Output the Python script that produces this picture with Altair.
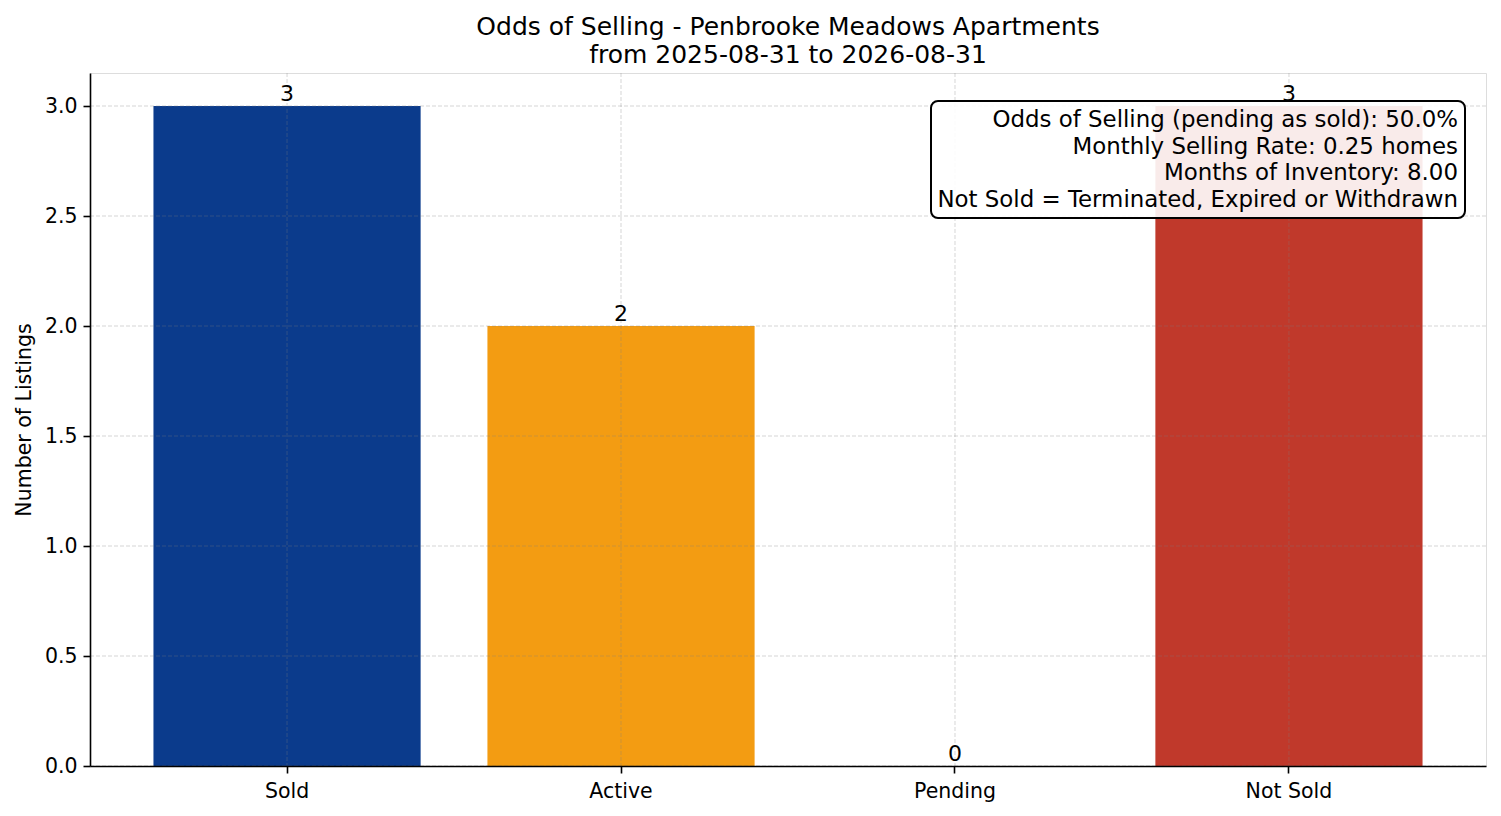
import altair as alt
import pandas as pd

categories = ["Sold", "Active", "Pending", "Not Sold"]
counts = [3, 2, 0, 3]
bar_colors = ["#0b3b8c", "#f39c12", "#7f7f7f", "#c0392b"]
y_ticks = [0.0, 0.5, 1.0, 1.5, 2.0, 2.5, 3.0]
title_lines = ["Odds of Selling - Penbrooke Meadows Apartments", "from 2025-08-31 to 2026-08-31"]
annotation_lines = [
    "Odds of Selling (pending as sold): 50.0%",
    "Monthly Selling Rate: 0.25 homes",
    "Months of Inventory: 8.00",
    "Not Sold = Terminated, Expired or Withdrawn",
]

FONT = "DejaVu Sans"
W, H = 1396, 693

df = pd.DataFrame({"status": categories, "count": counts})
ticks_df = pd.DataFrame({"tick": y_ticks})
ann_df = pd.DataFrame({"a": [0]})

x_scale = alt.Scale(domain=categories, paddingInner=0.2, paddingOuter=0.19)
y_scale = alt.Scale(domain=[0, 3.15], nice=False, zero=True)

x_enc = alt.X(
    "status:N",
    scale=x_scale,
    sort=categories,
    axis=alt.Axis(
        title=None, labelAngle=0, labelFontSize=20.5, labelFont=FONT, labelColor="black",
        tickSize=7, tickWidth=1.6, tickColor="black", labelPadding=8,
        domainColor="black", domainWidth=1.6, grid=False, zindex=1,
    ),
)
y_enc = alt.Y(
    "count:Q",
    scale=y_scale,
    axis=alt.Axis(
        title="Number of Listings", titleFontSize=20.5, titleFont=FONT, titleFontWeight="normal",
        titleColor="black", titlePadding=10,
        values=y_ticks, format=".1f", labelFontSize=20.5, labelFont=FONT, labelColor="black",
        tickSize=7, tickWidth=1.6, tickColor="black", labelPadding=6,
        domainColor="black", domainWidth=1.6, grid=False, zindex=1,
    ),
)

bars = alt.Chart(df).mark_bar().encode(
    x=x_enc,
    y=y_enc,
    color=alt.Color("status:N", scale=alt.Scale(domain=categories, range=bar_colors), legend=None),
)

grid_style = dict(color="#808080", opacity=0.32, strokeWidth=1, strokeDash=[4, 2])
xgrid = alt.Chart(df).mark_rule(**grid_style).encode(
    x=alt.X("status:N", scale=x_scale, sort=categories),
)
ygrid = alt.Chart(ticks_df).mark_rule(**grid_style).encode(
    y=alt.Y("tick:Q", scale=y_scale),
)

labels = alt.Chart(df).mark_text(
    baseline="bottom", dy=0, fontSize=22, font=FONT, color="black"
).encode(
    x=alt.X("status:N", scale=x_scale, sort=categories),
    y=alt.Y("count:Q", scale=y_scale),
    text=alt.Text("count:Q", format="d"),
)

box = alt.Chart(ann_df).mark_rect(
    fill="white", fillOpacity=0.9, stroke="black", strokeWidth=2, cornerRadius=7
).encode(
    x=alt.value(841), x2=alt.value(1375), y=alt.value(28), y2=alt.value(145),
)

ann_text = alt.Chart(ann_df).mark_text(
    align="right", baseline="top", fontSize=22.9, font=FONT, color="black",
    lineHeight=26.7, text=annotation_lines,
).encode(
    x=alt.value(1368), y=alt.value(36),
)

chart = alt.layer(bars, xgrid, ygrid, labels, box, ann_text).properties(
    width=W,
    height=H,
    title=alt.TitleParams(
        text=title_lines, fontSize=25, font=FONT, fontWeight="normal", color="black",
        anchor="middle", offset=5, lineHeight=28,
    ),
    autosize=alt.AutoSizeParams(type="none"),
    padding={"left": 82, "top": 65, "right": 5, "bottom": 42},
).configure_view(stroke=None).configure(background="white")

chart.save("out.html", embed_options={"renderer": "svg", "actions": False})
